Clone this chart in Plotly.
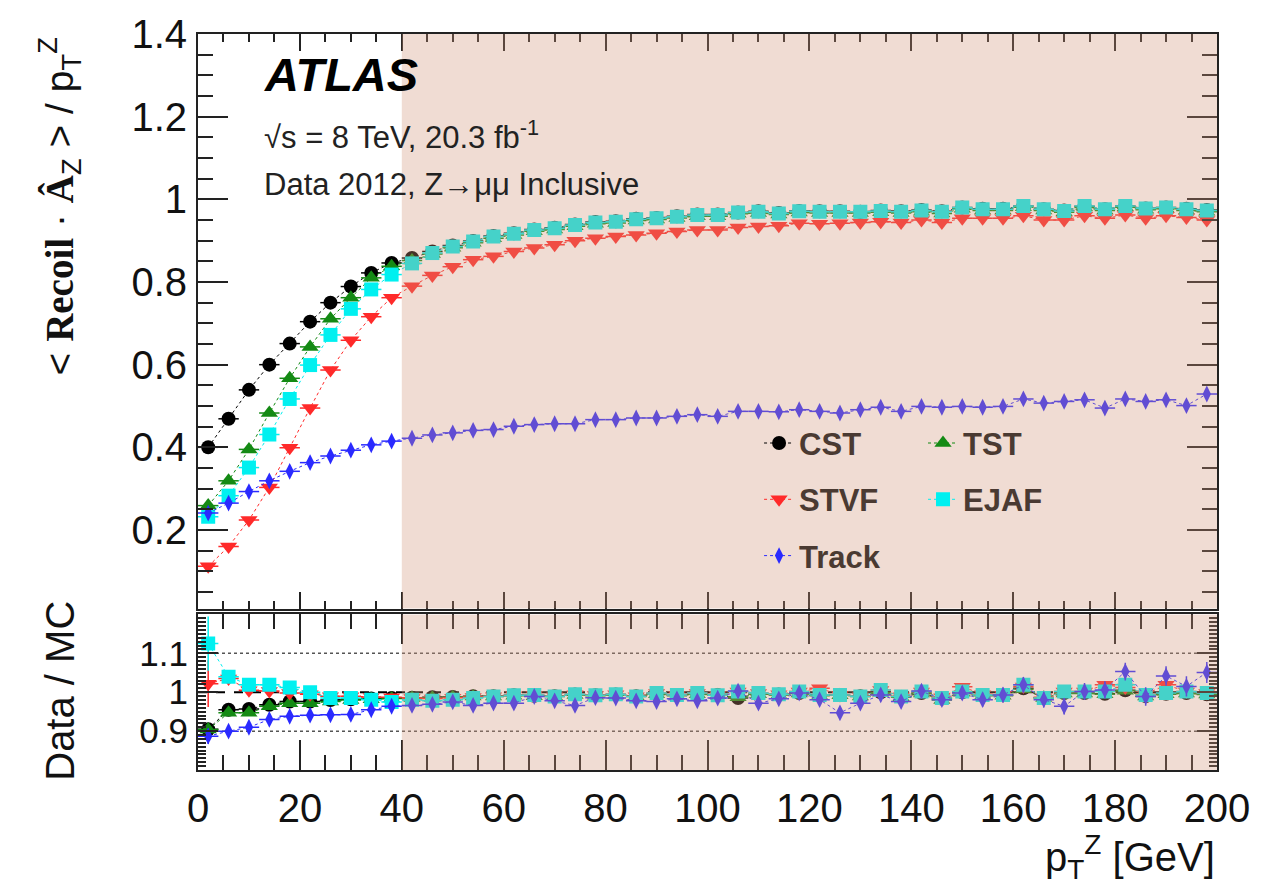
import plotly.graph_objects as go

# ---------------- data ----------------
pt = [2, 6, 10, 14, 18, 22, 26, 30, 34, 38,
      42, 46, 50, 54, 58, 62, 66, 70, 74, 78,
      82, 86, 90, 94, 98, 102, 106, 110, 114, 118,
      122, 126, 130, 134, 138, 142, 146, 150, 154, 158,
      162, 166, 170, 174, 178, 182, 186, 190, 194, 198]

cst = [0.400, 0.469, 0.539, 0.600, 0.651, 0.704, 0.750, 0.789, 0.822, 0.846,
       0.858, 0.874, 0.888, 0.899, 0.911, 0.918, 0.927, 0.931, 0.939, 0.945,
       0.947, 0.953, 0.955, 0.959, 0.963, 0.963, 0.968, 0.971, 0.967, 0.972,
       0.971, 0.971, 0.970, 0.973, 0.971, 0.974, 0.971, 0.980, 0.977, 0.977,
       0.984, 0.976, 0.973, 0.983, 0.976, 0.984, 0.978, 0.980, 0.977, 0.974]
tst = [0.259, 0.319, 0.395, 0.483, 0.567, 0.643, 0.711, 0.762, 0.810, 0.838,
       0.852, 0.868, 0.883, 0.895, 0.906, 0.914, 0.923, 0.927, 0.935, 0.941,
       0.943, 0.949, 0.951, 0.955, 0.959, 0.959, 0.965, 0.967, 0.963, 0.968,
       0.967, 0.967, 0.967, 0.969, 0.967, 0.970, 0.966, 0.977, 0.973, 0.973,
       0.981, 0.973, 0.969, 0.980, 0.973, 0.981, 0.975, 0.977, 0.973, 0.970]
stvf = [0.112, 0.160, 0.224, 0.303, 0.399, 0.495, 0.587, 0.659, 0.716, 0.762,
        0.790, 0.816, 0.837, 0.854, 0.862, 0.874, 0.882, 0.890, 0.900, 0.906,
        0.910, 0.914, 0.918, 0.922, 0.926, 0.926, 0.932, 0.934, 0.936, 0.942,
        0.941, 0.942, 0.944, 0.946, 0.944, 0.950, 0.944, 0.954, 0.954, 0.954,
        0.960, 0.950, 0.950, 0.960, 0.954, 0.962, 0.954, 0.960, 0.956, 0.950]
ejaf = [0.232, 0.283, 0.351, 0.431, 0.517, 0.599, 0.672, 0.735, 0.782, 0.818,
        0.845, 0.870, 0.886, 0.898, 0.910, 0.917, 0.926, 0.930, 0.938, 0.944,
        0.946, 0.952, 0.954, 0.958, 0.962, 0.962, 0.968, 0.970, 0.966, 0.971,
        0.970, 0.970, 0.970, 0.972, 0.970, 0.973, 0.970, 0.980, 0.976, 0.976,
        0.984, 0.976, 0.972, 0.984, 0.976, 0.984, 0.978, 0.980, 0.976, 0.973]
track = [0.241, 0.265, 0.293, 0.319, 0.342, 0.363, 0.379, 0.393, 0.406, 0.415,
         0.422, 0.430, 0.435, 0.441, 0.443, 0.451, 0.455, 0.457, 0.457, 0.467,
         0.467, 0.471, 0.471, 0.475, 0.479, 0.475, 0.487, 0.487, 0.486, 0.491,
         0.487, 0.483, 0.491, 0.497, 0.487, 0.499, 0.497, 0.499, 0.497, 0.499,
         0.517, 0.507, 0.511, 0.515, 0.495, 0.517, 0.511, 0.515, 0.501, 0.529]

r_cst = [0.905, 0.955, 0.957, 0.968, 0.976, 0.976, 0.980, 0.982, 0.984, 0.985,
         0.986, 0.987, 0.988, 0.990, 0.990, 0.992, 0.991, 0.990, 0.994, 0.992,
         0.994, 0.990, 0.996, 0.992, 0.996, 0.993, 0.985, 0.996, 0.994, 0.998,
         0.992, 0.993, 0.990, 1.000, 0.988, 0.998, 0.984, 1.000, 0.992, 0.992,
         1.010, 0.986, 0.998, 0.998, 0.996, 1.005, 0.990, 0.996, 0.998, 0.995]
r_tst = [0.904, 0.947, 0.947, 0.964, 0.972, 0.972, 0.976, 0.980, 0.982, 0.984,
         0.985, 0.986, 0.987, 0.989, 0.989, 0.991, 0.990, 0.989, 0.993, 0.991,
         0.993, 0.989, 0.995, 0.991, 0.995, 0.992, 0.987, 0.995, 0.993, 0.997,
         0.991, 0.992, 0.989, 0.999, 0.987, 0.997, 0.980, 0.999, 0.991, 0.991,
         1.008, 0.985, 0.997, 0.997, 0.995, 1.004, 0.989, 0.995, 0.997, 0.994]
r_stvf = [1.022, 1.035, 1.005, 1.003, 0.998, 0.995, 0.990, 0.990, 0.988, 0.987,
          0.985, 0.984, 0.986, 0.988, 0.990, 0.992, 0.993, 0.990, 0.995, 0.993,
          0.995, 0.990, 0.998, 0.993, 0.998, 0.993, 1.002, 0.998, 0.995, 1.002,
          1.010, 0.993, 0.990, 1.006, 0.990, 1.002, 0.987, 1.014, 0.995, 0.993,
          1.015, 0.987, 1.002, 1.002, 1.019, 1.012, 0.995, 1.019, 1.002, 0.998]
r_ejaf = [1.125, 1.040, 1.019, 1.019, 1.012, 1.000, 0.985, 0.985, 0.981, 0.975,
          0.981, 0.978, 0.981, 0.985, 0.989, 0.992, 0.993, 0.989, 0.995, 0.992,
          0.995, 0.989, 0.998, 0.993, 0.998, 0.992, 1.002, 0.998, 0.995, 1.002,
          0.993, 0.993, 0.989, 1.006, 0.989, 1.002, 0.985, 1.002, 0.993, 0.993,
          1.019, 0.985, 1.002, 1.002, 1.002, 1.019, 0.993, 0.998, 1.002, 0.998]
r_track = [0.887, 0.900, 0.910, 0.930, 0.938, 0.941, 0.942, 0.943, 0.955, 0.964,
           0.966, 0.969, 0.975, 0.966, 0.972, 0.972, 0.989, 0.978, 0.966, 0.986,
           0.985, 0.978, 0.976, 0.983, 0.978, 0.985, 1.003, 0.972, 0.983, 0.998,
           0.981, 0.947, 0.972, 0.993, 0.976, 1.003, 0.981, 0.998, 0.981, 0.993,
           1.019, 0.981, 0.964, 1.002, 1.006, 1.053, 0.989, 1.042, 1.015, 1.051]

e_cst = [0.010, 0.006, 0.005, 0.004, 0.004, 0.003, 0.003, 0.003, 0.003, 0.003,
         0.003, 0.003, 0.003, 0.003, 0.003, 0.003, 0.004, 0.004, 0.004, 0.004,
         0.004, 0.004, 0.004, 0.004, 0.005, 0.005, 0.005, 0.005, 0.005, 0.005,
         0.006, 0.006, 0.006, 0.006, 0.006, 0.007, 0.007, 0.007, 0.007, 0.007,
         0.008, 0.008, 0.008, 0.008, 0.009, 0.009, 0.009, 0.009, 0.010, 0.010]
e_tst = [0.012, 0.007, 0.005, 0.004, 0.004, 0.003, 0.003, 0.003, 0.003, 0.003,
         0.003, 0.003, 0.003, 0.003, 0.003, 0.003, 0.004, 0.004, 0.004, 0.004,
         0.004, 0.004, 0.004, 0.004, 0.005, 0.005, 0.005, 0.005, 0.005, 0.005,
         0.006, 0.006, 0.006, 0.006, 0.006, 0.007, 0.007, 0.007, 0.007, 0.007,
         0.008, 0.008, 0.008, 0.008, 0.009, 0.009, 0.009, 0.009, 0.010, 0.010]
e_stvf = [0.060, 0.012, 0.007, 0.005, 0.004, 0.004, 0.004, 0.004, 0.004, 0.004,
          0.004, 0.004, 0.004, 0.004, 0.004, 0.004, 0.005, 0.005, 0.005, 0.005,
          0.005, 0.005, 0.005, 0.005, 0.006, 0.006, 0.006, 0.006, 0.006, 0.006,
          0.007, 0.007, 0.007, 0.007, 0.007, 0.008, 0.008, 0.008, 0.008, 0.008,
          0.009, 0.009, 0.009, 0.009, 0.010, 0.010, 0.010, 0.010, 0.011, 0.011]
e_ejaf = [0.070, 0.012, 0.007, 0.005, 0.004, 0.004, 0.004, 0.004, 0.004, 0.004,
          0.004, 0.004, 0.004, 0.004, 0.004, 0.004, 0.005, 0.005, 0.005, 0.005,
          0.005, 0.005, 0.005, 0.005, 0.006, 0.006, 0.006, 0.006, 0.006, 0.006,
          0.007, 0.007, 0.007, 0.007, 0.007, 0.008, 0.008, 0.008, 0.008, 0.008,
          0.009, 0.009, 0.009, 0.009, 0.010, 0.010, 0.010, 0.010, 0.011, 0.011]
e_track = [0.020, 0.010, 0.008, 0.007, 0.006, 0.006, 0.006, 0.006, 0.006, 0.006,
           0.007, 0.007, 0.007, 0.008, 0.008, 0.008, 0.009, 0.009, 0.009, 0.010,
           0.010, 0.010, 0.011, 0.011, 0.012, 0.012, 0.012, 0.013, 0.013, 0.014,
           0.014, 0.015, 0.015, 0.016, 0.016, 0.017, 0.017, 0.018, 0.018, 0.019,
           0.020, 0.020, 0.021, 0.022, 0.022, 0.023, 0.024, 0.025, 0.026, 0.027]

series_names = ["CST", "TST", "STVF", "EJAF", "Track"]
half_bin = 2
shade_from = 40

# ---------------- style ----------------
FONT = "Liberation Sans, Arial, Helvetica, sans-serif"
colors = {"CST": "#000000", "TST": "#148a14", "STVF": "#ff2a2a",
          "EJAF": "#00f0f0", "Track": "#2a2aff"}
symbols = {"CST": "circle", "TST": "triangle-up", "STVF": "triangle-down",
           "EJAF": "square", "Track": "diamond-tall"}
sizes = {"CST": 14, "TST": 15, "STVF": 15, "EJAF": 14, "Track": 12}
legend_of = {"CST": "legend", "STVF": "legend", "Track": "legend",
             "TST": "legend2", "EJAF": "legend2"}

main_vals = {"CST": cst, "TST": tst, "STVF": stvf, "EJAF": ejaf, "Track": track}
ratio_vals = {"CST": r_cst, "TST": r_tst, "STVF": r_stvf, "EJAF": r_ejaf, "Track": r_track}
ratio_errs = {"CST": e_cst, "TST": e_tst, "STVF": e_stvf, "EJAF": e_ejaf, "Track": e_track}

fig = go.Figure()

for name in series_names:
    c = colors[name]
    fig.add_trace(go.Scatter(
        x=pt, y=main_vals[name], name=name, mode="lines+markers",
        legend=legend_of[name], legendgroup=name,
        marker=dict(symbol=symbols[name], size=sizes[name], color=c, line=dict(width=0)),
        line=dict(color=c, width=1, dash="dot"),
        error_x=dict(type="constant", value=half_bin, color=c, thickness=1.5, width=0),
        xaxis="x", yaxis="y"))

for name in series_names:
    c = colors[name]
    fig.add_trace(go.Scatter(
        x=pt, y=ratio_vals[name], name=name, mode="lines+markers", showlegend=False,
        marker=dict(symbol=symbols[name], size=sizes[name], color=c, line=dict(width=0)),
        line=dict(color=c, width=1, dash="dot"),
        error_x=dict(type="constant", value=half_bin, color=c, thickness=1.5, width=0),
        error_y=dict(type="data", array=ratio_errs[name], color=c, thickness=1.5, width=0),
        xaxis="x2", yaxis="y2"))

overlay = "rgba(210,150,120,0.33)"
shapes = [
    dict(type="line", xref="x2 domain", yref="y2", x0=0, x1=1, y0=1.1, y1=1.1,
         line=dict(color="#555555", width=1.5, dash="dot"), layer="below"),
    dict(type="line", xref="x2 domain", yref="y2", x0=0, x1=1, y0=0.9, y1=0.9,
         line=dict(color="#555555", width=1.5, dash="dot"), layer="below"),
    dict(type="line", xref="x2 domain", yref="y2", x0=0, x1=1, y0=1.0, y1=1.0,
         line=dict(color="#000000", width=2, dash="dash"), layer="below"),
    dict(type="rect", xref="x", yref="y domain", x0=shade_from, x1=200, y0=0, y1=1,
         fillcolor=overlay, line=dict(width=0), layer="above"),
    dict(type="rect", xref="x2", yref="y2 domain", x0=shade_from, x1=200, y0=0, y1=1,
         fillcolor=overlay, line=dict(width=0), layer="above"),
]

axis_common = dict(showline=True, linecolor="#222222", linewidth=2, mirror="allticks",
                   ticks="inside", tickcolor="#222222", tickwidth=2,
                   showgrid=False, zeroline=False)
tickfont_big = dict(family=FONT, size=40, color="#111111")
tickfont_ratio = dict(family=FONT, size=35, color="#111111")

legend_style = dict(yanchor="top", xanchor="left", bgcolor="rgba(0,0,0,0)",
                    font=dict(family=FONT, size=31, color="#4a3a32", weight="bold"),
                    tracegroupgap=13, itemwidth=30)

fig.update_layout(
    width=1263, height=885,
    margin=dict(l=198, r=46, t=27, b=115),
    paper_bgcolor="white", plot_bgcolor="white",
    font=dict(family=FONT, color="#111111"),
    xaxis=dict(domain=[0, 1], anchor="y", range=[0, 200], dtick=20, tick0=0,
               ticklen=17, showticklabels=False, matches="x2", tickfont=tickfont_big,
               minor=dict(dtick=5, ticklen=8, ticks="inside", tickcolor="#222222", tickwidth=1.5),
               **axis_common),
    yaxis=dict(domain=[0.2194, 1], anchor="x", range=[0.01, 1.4], dtick=0.2, tick0=0,
               ticklen=30, ticklabelstandoff=1, tickfont=tickfont_big,
               minor=dict(dtick=0.05, ticklen=15, ticks="inside", tickcolor="#222222", tickwidth=1.5),
               **axis_common),
    xaxis2=dict(domain=[0, 1], anchor="y2", range=[0, 200], dtick=20, tick0=0,
                ticklen=30, ticklabelstandoff=2, tickfont=tickfont_big,
                minor=dict(dtick=5, ticklen=15, ticks="inside", tickcolor="#222222", tickwidth=1.5),
                **axis_common),
    yaxis2=dict(domain=[0, 0.2113], anchor="x2", range=[0.8001, 1.1999], dtick=0.1, tick0=0.8,
                ticklen=20, ticklabelstandoff=1, tickfont=tickfont_ratio,
                minor=dict(dtick=0.01, ticklen=8, ticks="inside", tickcolor="#222222", tickwidth=1.5),
                **axis_common),
    shapes=shapes,
    legend=dict(x=0.5506, y=0.4805, **legend_style),
    legend2=dict(x=0.7115, y=0.4805, **legend_style),
    annotations=[
        dict(text="<b><i>ATLAS</i></b>", xref="paper", yref="paper", x=0.0628, y=0.9447,
             xanchor="left", yanchor="middle", showarrow=False,
             font=dict(family=FONT, size=47, color="#000000")),
        dict(text="√s = 8 TeV, 20.3 fb<sup>-1</sup>", xref="paper", yref="paper", x=0.0628, y=0.8627,
             xanchor="left", yanchor="middle", showarrow=False,
             font=dict(family=FONT, size=31, color="#222222")),
        dict(text="Data 2012, Z→μμ Inclusive", xref="paper", yref="paper", x=0.0628, y=0.7954,
             xanchor="left", yanchor="middle", showarrow=False,
             font=dict(family=FONT, size=31, color="#222222")),
        dict(text="p<sub>T</sub><sup>Z</sup> [GeV]", xref="paper", yref="paper", x=1.0, y=-0.1184,
             xanchor="right", yanchor="middle", showarrow=False,
             font=dict(family=FONT, size=40, color="#111111")),
        dict(text="&lt; <b><span style='font-family:Liberation Serif'>Recoil</span></b> · "
                  "<b><span style='font-family:Liberation Serif'>Â</span></b><sub>Z</sub> &gt; / "
                  "p<sub>T</sub><sup>Z</sup>",
             xref="paper", yref="paper", x=-0.1354, y=0.998, textangle=-90,
             xanchor="center", yanchor="top", showarrow=False,
             font=dict(family=FONT, size=39, color="#111111")),
        dict(text="Data / MC", xref="paper", yref="paper", x=-0.1354, y=0.1077, textangle=-90,
             xanchor="center", yanchor="middle", showarrow=False,
             font=dict(family=FONT, size=40, color="#111111")),
    ],
)

fig.write_html("out.html")
